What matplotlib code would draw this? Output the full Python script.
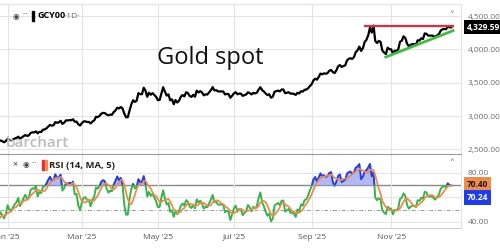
import numpy as np
import pandas as pd
import matplotlib
matplotlib.use("Agg")
from matplotlib import pyplot as plt
from matplotlib.patches import Rectangle
from matplotlib.transforms import blended_transform_factory

plt.rcParams['font.family'] = ['Open Sans', 'DejaVu Sans']

# daily closes of gold spot (weekdays, Dec 25 / Jan 1 skipped)
nov24 = [2736, 2736, 2742, 2659, 2706, 2685, 2619, 2598, 2573, 2565, 2563,
         2612, 2631, 2651, 2670, 2715, 2625, 2632, 2636, 2640, 2650]
dec24 = [2640, 2643, 2650, 2632, 2633, 2660, 2694, 2718, 2680, 2648, 2652,
         2646, 2587, 2594, 2622, 2612, 2617, 2634, 2621, 2606, 2624]
jan25 = [2658, 2640, 2636, 2648, 2662, 2670, 2690, 2662, 2677, 2697, 2714,
         2702, 2708, 2745, 2755, 2754, 2770, 2740, 2763, 2760, 2795, 2798]
feb25 = [2815, 2842, 2866, 2856, 2861, 2908, 2898, 2905, 2928, 2882, 2898,
         2934, 2933, 2939, 2936, 2951, 2914, 2916, 2876, 2858]
mar25 = [2893, 2918, 2920, 2910, 2910, 2889, 2917, 2934, 2988, 2984, 3001,
         3034, 3047, 3044, 3023, 3010, 3020, 3019, 3057, 3084, 3124]
apr25 = [3113, 3134, 3114, 3037, 2982, 2982, 3083, 3175, 3237, 3211, 3229,
         3343, 3327, 3327, 3424, 3381, 3288, 3349, 3319, 3343, 3316, 3288]
may25 = [3239, 3240, 3333, 3431, 3365, 3306, 3325, 3235, 3250, 3177, 3239,
         3202, 3230, 3289, 3314, 3294, 3357, 3342, 3300, 3287, 3318, 3289]
jun25 = [3380, 3353, 3373, 3352, 3310, 3325, 3322, 3355, 3386, 3433, 3384,
         3388, 3369, 3369, 3368, 3368, 3323, 3332, 3328, 3274, 3303]
jul25 = [3339, 3357, 3326, 3337, 3335, 3302, 3313, 3324, 3355, 3343, 3324,
         3347, 3339, 3350, 3396, 3432, 3387, 3368, 3337, 3314, 3326, 3275, 3289]
aug25 = [3363, 3373, 3381, 3369, 3397, 3398, 3342, 3348, 3356, 3336, 3336,
         3332, 3316, 3348, 3339, 3371, 3366, 3393, 3397, 3416, 3448]
sep25 = [3476, 3533, 3560, 3545, 3586, 3636, 3626, 3640, 3634, 3643, 3679,
         3690, 3659, 3644, 3685, 3746, 3764, 3736, 3749, 3760, 3833, 3858]
oct25 = [3866, 3857, 3886, 3961, 3985, 4041, 3976, 4017, 4110, 4143, 4209,
         4326, 4251, 4356, 4125, 4095, 4126, 4112, 3982, 3952, 3930, 4024, 4002]
nov25 = [4000, 3932, 3980, 3977, 4000, 4115, 4128, 4195, 4171, 4084, 4045,
         4067, 4078, 4078, 4065, 4136, 4131, 4165, 4156, 4239]
dec25 = [4232, 4206, 4205, 4207, 4197, 4189, 4208, 4229, 4280, 4300, 4305,
         4302, 4338, 4330, 4329.59]

first_day = "2024-11-01"
last_day = "2025-12-19"
view_start = "2024-12-26"
holidays = ["2024-12-25", "2025-01-01"]

tick_months = ["2025-01-01", "2025-03-01", "2025-05-01", "2025-07-01",
               "2025-09-01", "2025-11-01"]
tick_labels = ["Jan '25", "Mar '25", "May '25", "Jul '25", "Sep '25", "Nov '25"]
price_ticks = [2500, 3000, 3500, 4000, 4500]
rsi_ticks = [40, 80]

# drawn trend lines
red_dates = ["2025-10-13", "2025-12-22"]
red_price = [4350, 4350]
green_dates = ["2025-10-29", "2025-12-22"]
green_price = [3885, 4280]

last_price_label = "4,329.59"
last_ma = 70.40
last_rsi = 70.24

price = np.array(nov24 + dec24 + jan25 + feb25 + mar25 + apr25 + may25 + jun25
                 + jul25 + aug25 + sep25 + oct25 + nov25 + dec25, dtype=float)
dates = pd.bdate_range(first_day, last_day, freq="C", holidays=holidays)
x = np.arange(len(price))


def pos(d):
    return np.busday_count(first_day, d, holidays=holidays)


# RSI(14), Wilder smoothing, and its 5 period MA
chg = pd.Series(price).diff()
gain = chg.clip(lower=0).ewm(alpha=1 / 14, adjust=False).mean()
loss = (-chg.clip(upper=0)).ewm(alpha=1 / 14, adjust=False).mean()
rsi = (100 - 100 / (1 + gain / loss)).to_numpy()
rsi_ma = pd.Series(rsi).rolling(5).mean().to_numpy()

xmin = pos(view_start) - 0.3
xmax = len(price) - 1 + 5.5
xticks = [dates.searchsorted(pd.Timestamp(m)) for m in tick_months]

fig = plt.figure(figsize=(5, 2.5), dpi=100)
ax = fig.add_axes([0, 1 - 154 / 250, 461 / 500, 150 / 250])
ax2 = fig.add_axes([0, 1 - 228 / 250, 461 / 500, 74 / 250])

grid_c = '#e4e4e4'
label_c = '#6e6e6e'

# ---- price panel
ax.plot(x, price, color='black', lw=1.6, zorder=3)
ax.plot([pos(d) for d in red_dates], red_price, color='#e8283c', lw=1.6, zorder=4)
ax.plot([pos(d) for d in green_dates], green_price, color='#3cc03c', lw=2.0, zorder=4)
ax.set_xlim(xmin, xmax)
ax.set_ylim(2430, 4680)
ax.set_yticks(price_ticks)
ax.set_yticklabels(["{:,.2f}".format(v) for v in price_ticks])
ax.set_xticks(xticks)
ax.tick_params(axis='x', length=0, labelbottom=False)
ax.yaxis.tick_right()
ax.tick_params(axis='y', length=0, pad=5, labelsize=6, labelcolor=label_c)
ax.grid(True, color=grid_c, lw=0.8)
for s in ['left', 'bottom']:
    ax.spines[s].set_visible(False)
ax.spines['top'].set_color(grid_c)
ax.spines['right'].set_color(grid_c)

tr = blended_transform_factory(ax.transAxes, ax.transData)
ax.text(1.012, price[-1], last_price_label, transform=tr, ha='left', va='center',
        fontsize=6, color='white', weight='bold', clip_on=False,
        bbox=dict(boxstyle='square,pad=0.3', fc='black', ec='none'))
ax.text(0.98, 0.92, '\u02c5', transform=ax.transAxes, ha='center', va='center',
        fontsize=7, color='#777777', family='DejaVu Sans')
ax.text(0.012, 0.025, 'barchart', transform=ax.transAxes, ha='left', va='bottom',
        fontsize=11, color='#bcbcbc', weight='semibold')

# ---- RSI panel
ax2.fill_between(x, rsi, 70, where=rsi > 70, interpolate=True,
                 color='#a4acf4', alpha=0.85, lw=0, zorder=2)
green_ln, = ax2.plot(x, rsi, color='#33b54a', lw=1.4, zorder=3)
blue_ln, = ax2.plot(x, rsi, color='#1f3cf0', lw=1.4, zorder=3)
ax2.plot(x, rsi_ma, color='#f08c4a', lw=1.3, zorder=4)
ax2.set_xlim(xmin, xmax)
ax2.set_ylim(35.1, 95.5)
green_ln.set_clip_path(Rectangle((xmin, 0), xmax - xmin, 70, transform=ax2.transData))
blue_ln.set_clip_path(Rectangle((xmin, 70), xmax - xmin, 40, transform=ax2.transData))
ax2.axhline(70, color='#8a8a8a', lw=1.0, zorder=1)
ax2.axhline(50, color='#9a9a9a', lw=0.7, ls=(0, (4, 2, 1, 2)), zorder=1)
for lvl in [40, 60, 80]:
    ax2.axhline(lvl, color=grid_c, lw=0.8, zorder=0)
ax2.set_yticks(rsi_ticks)
ax2.set_yticklabels(["{:.2f}".format(v) for v in rsi_ticks])
ax2.yaxis.tick_right()
ax2.tick_params(axis='y', length=0, pad=5, labelsize=6, labelcolor=label_c)
ax2.set_xticks(xticks)
ax2.set_xticklabels(tick_labels)
ax2.tick_params(axis='x', length=0, pad=4, labelsize=6, labelcolor='#555555')
ax2.grid(True, axis='x', color=grid_c, lw=0.8)
ax2.spines['left'].set_visible(False)
ax2.spines['top'].set_color('#9a9a9a')
ax2.spines['right'].set_color(grid_c)
ax2.spines['bottom'].set_color('#cfcfcf')

tr2 = blended_transform_factory(ax2.transAxes, ax2.transData)
ax2.text(1.012, last_ma, "{:.2f}".format(last_ma), transform=tr2, ha='left',
         va='center', fontsize=6, color='#1a1a1a', weight='bold', clip_on=False,
         bbox=dict(boxstyle='square,pad=0.35', fc='#f08c4a', ec='none'))
ax2.text(1.012, last_ma - 10.5, "{:.2f}".format(last_rsi), transform=tr2, ha='left',
         va='center', fontsize=6, color='white', weight='bold', clip_on=False,
         bbox=dict(boxstyle='square,pad=0.35', fc='#1f3cf0', ec='none'))
ax2.text(0.98, 0.86, '\u02c4', transform=ax2.transAxes, ha='center', va='center',
         fontsize=7, color='#777777', family='DejaVu Sans')

# ---- headers
fig.text(157 / 500, 1 - 64 / 250, 'Gold spot', fontsize=17, va='baseline', color='#111111')

fig.text(16 / 500, 1 - 16 / 250, '\u25c9', fontsize=5.5, ha='center', va='center',
         color='#444444', family='DejaVu Sans')
fig.text(25 / 500, 1 - 15 / 250, '\u00b7\u00b7\u00b7', fontsize=5, ha='center',
         va='center', color='#444444')
fig.add_artist(Rectangle((32 / 500, 1 - 21 / 250), 2 / 500, 10 / 250,
                         transform=fig.transFigure, color='black'))
fig.text(37 / 500, 1 - 16 / 250, 'GCY00', fontsize=6.5, weight='bold', va='center')
fig.text(64 / 500, 1 - 16 / 250, '\u00b71D\u00b7', fontsize=6, va='center', color='#666666')

fig.text(15 / 500, 1 - 165 / 250, '\u00d7', fontsize=6.5, ha='center', va='center',
         color='#333333')
fig.text(26 / 500, 1 - 165 / 250, '\u25c9', fontsize=5.5, ha='center', va='center',
         color='#444444', family='DejaVu Sans')
fig.text(34 / 500, 1 - 164 / 250, '\u00b7\u00b7\u00b7', fontsize=5, ha='center',
         va='center', color='#444444')
fig.add_artist(Rectangle((41.5 / 500, 1 - 170 / 250), 2 / 500, 10 / 250,
                         transform=fig.transFigure, color='#e8283c'))
fig.add_artist(Rectangle((44.5 / 500, 1 - 170 / 250), 2 / 500, 10 / 250,
                         transform=fig.transFigure, color='#f08c4a'))
fig.text(49 / 500, 1 - 165 / 250, 'RSI (14, MA, 5)', fontsize=6.8, weight='bold',
         va='center', color='#222222')

fig.savefig('out.png', dpi=100, facecolor='white')
